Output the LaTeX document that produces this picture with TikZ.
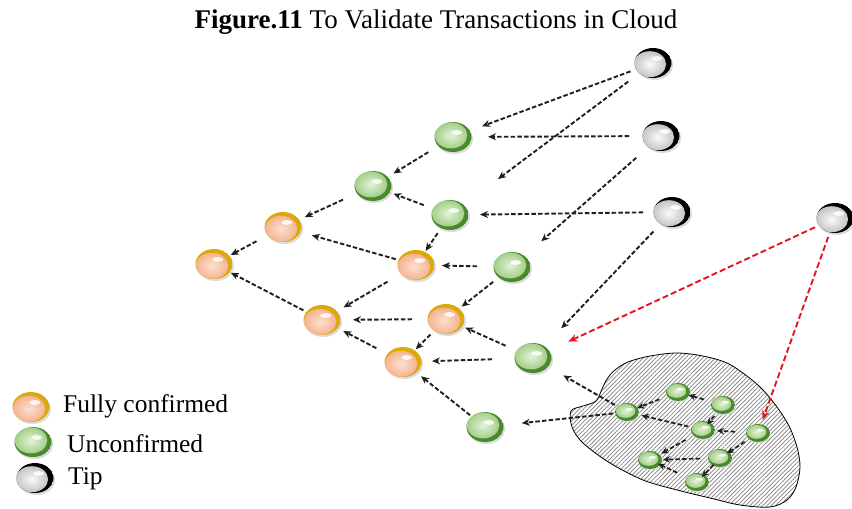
\documentclass[tikz,border=0pt]{standalone}
\usepackage{fontspec}
\setmainfont{Liberation Serif}
\usetikzlibrary{shapes.geometric, arrows.meta, patterns.meta}

\definecolor{rimgreen}{HTML}{4A8A2E}
\definecolor{lightgreen}{HTML}{E3F2D8}
\definecolor{bodygreen}{HTML}{A3CF88}
\definecolor{rimgold}{HTML}{D9AA08}
\definecolor{lightpeach}{HTML}{FDE0CF}
\definecolor{bodypeach}{HTML}{F4B390}
\definecolor{lightgrey}{HTML}{FAFAFA}
\definecolor{bodygrey}{HTML}{C4C4C4}
\definecolor{linkred}{HTML}{E3161C}

% glossy egg: rim colour underneath, shaded body shifted off-centre, white gloss
\newcommand\orbpaint[7]{%
  \fill[#3] (path picture bounding box.center) ellipse [x radius=#1, y radius=#2];
  \shade[inner color=#4, outer color=#5]
    ([shift={(#6,#7)}]path picture bounding box.center)
    ellipse [x radius=#1-2.2pt, y radius=#2-2pt];
  \fill[white, opacity=0.85]
    ([shift={(0.2*#1,0.3*#2)}]path picture bounding box.center)
    ellipse [x radius=0.3*#1, y radius=0.16*#2];
}

\tikzset{
  orb/.style={shape=ellipse, inner sep=0pt, minimum width=37pt, minimum height=30pt,
    preaction={fill=black!14, transform canvas={xshift=1.5pt, yshift=-2pt}}},
  smallorb/.style={shape=ellipse, inner sep=0pt, minimum width=24pt, minimum height=18pt,
    preaction={fill=black!14, transform canvas={xshift=1pt, yshift=-1.5pt}}},
  gball/.style={orb, path picture={\orbpaint{18.5pt}{15pt}{rimgreen}{lightgreen}{bodygreen}{-2pt}{1.6pt}}},
  oball/.style={orb, path picture={\orbpaint{18.5pt}{15pt}{rimgold}{lightpeach}{bodypeach}{-2pt}{-1.8pt}}},
  tball/.style={orb, path picture={\orbpaint{18.5pt}{15pt}{black}{lightgrey}{bodygrey}{-3.2pt}{-1.2pt}}},
  sball/.style={smallorb, path picture={\orbpaint{12pt}{9pt}{rimgreen}{lightgreen}{bodygreen}{-1.4pt}{1.1pt}}},
  darr/.style={draw=black!88, line width=1.9pt, dash pattern=on 4.5pt off 2.2pt,
    -{Stealth[length=8pt,width=7pt]}},
  sarr/.style={darr, line width=1.7pt, -{Stealth[length=7pt,width=6.5pt]}},
  rarr/.style={draw=linkred, line width=1.9pt, dash pattern=on 6pt off 3pt,
    -{Stealth[length=9pt,width=7.5pt]}},
  legendtext/.style={anchor=base west, inner sep=0pt, font=\fontsize{25.5}{30}\selectfont},
}

\begin{document}
\begin{tikzpicture}[x=1pt, y=-1pt]
\useasboundingbox (0,0) rectangle (852,509);
\fill[white] (0,0) rectangle (852,509);

% title
\node[anchor=base, inner sep=0pt, font=\fontsize{27}{31}\selectfont] (title) at (436,28)
  {\textbf{Figure.11} To Validate Transactions in Cloud};

% hatched region holding the newly arrived transactions
\draw[line width=0.8pt, pattern={Lines[angle=45, distance=3pt, line width=0.7pt]}, pattern color=black!50]
  plot[smooth cycle, tension=0.55] coordinates {
    (571,411) (583,406) (596,401) (602,389) (607,379) (615,370) (628,362)
    (650,356) (677,353) (703,356) (727,363) (747,376) (763,390) (777,407)
    (789,426) (797,447) (800,467) (796,487) (787,500) (770,507) (740,505)
    (710,498) (677,490) (643,480) (610,463) (583,443) (572,427)};

% tips
\node[tball] (T1) at (653,63) {};
\node[tball] (T2) at (661,136) {};
\node[tball] (T3) at (672,212) {};
\node[tball] (T4) at (835,218) {};

% unconfirmed
\node[gball] (G1) at (453,137) {};
\node[gball] (G2) at (373,186) {};
\node[gball] (G3) at (450,215) {};
\node[gball] (G4) at (512,267) {};
\node[gball] (G5) at (533,358) {};
\node[gball] (G6) at (485,427) {};

% fully confirmed
\node[oball] (O1) at (283,227) {};
\node[oball] (O2) at (214,264) {};
\node[oball] (O3) at (416,265) {};
\node[oball] (O4) at (322,320) {};
\node[oball] (O5) at (446,319) {};
\node[oball] (O6) at (403,362) {};

% transactions inside the region
\node[sball] (s1) at (627,412) {};
\node[sball] (s2) at (678,392) {};
\node[sball] (s3) at (723,405) {};
\node[sball] (s4) at (703,430) {};
\node[sball] (s5) at (758,433) {};
\node[sball] (s6) at (650,460) {};
\node[sball] (s7) at (720,458) {};
\node[sball] (s8) at (697,482) {};

% approvals from the tips
\draw[darr, shorten <=24pt, shorten >=31pt] (T1.center) -- (G1.center);
\draw[darr, shorten <=31pt, shorten >=60pt] (T1.center) -- (G3.center);
\draw[darr, shorten <=32pt, shorten >=35pt] (T2.center) -- (G1.center);
\draw[darr, shorten <=33pt, shorten >=39pt] (T2.center) -- (G4.center);
\draw[darr, shorten <=29pt, shorten >=30pt] (T3.center) -- (G3.center);
\draw[darr, shorten <=27pt, shorten >=41pt] (T3.center) -- (G5.center);
\draw[rarr, shorten <=22pt, shorten >=39pt] (T4.center) -- (G5.center);
\draw[rarr, shorten <=20pt, shorten >=14pt] (T4.center) -- (s5.center);

% approvals among earlier transactions
\draw[darr, shorten <=29pt, shorten >=24pt] (G1.center) -- (G2.center);
\draw[darr, shorten <=28pt, shorten >=22pt] (G3.center) -- (G2.center);
\draw[darr, shorten <=33pt, shorten >=24pt] (G2.center) -- (O1.center);
\draw[darr, shorten <=30pt, shorten >=19pt] (O1.center) -- (O2.center);
\draw[darr, shorten <=21pt, shorten >=30pt] (O3.center) -- (O1.center);
\draw[darr, shorten <=22pt, shorten >=17pt] (G3.center) -- (O3.center);
\draw[darr, shorten <=35pt, shorten >=26pt] (G4.center) -- (O3.center);
\draw[darr, shorten <=21pt, shorten >=19pt] (O4.center) -- (O2.center);
\draw[darr, shorten <=34pt, shorten >=31pt] (O5.center) -- (O4.center);
\draw[darr, shorten <=33pt, shorten >=25pt] (O3.center) -- (O4.center);
\draw[darr, shorten <=24pt, shorten >=20pt] (G4.center) -- (O5.center);
\draw[darr, shorten <=30pt, shorten >=24pt] (O6.center) -- (O4.center);
\draw[darr, shorten <=22pt, shorten >=18pt] (O5.center) -- (O6.center);
\draw[darr, shorten <=41pt, shorten >=29pt] (G5.center) -- (O6.center);
\draw[darr, shorten <=30pt, shorten >=21pt] (G5.center) -- (O5.center);
\draw[darr, shorten <=19pt, shorten >=23pt] (G6.center) -- (O6.center);
\draw[darr, shorten <=14pt, shorten >=37pt] (s1.center) -- (G6.center);
\draw[darr, shorten <=14pt, shorten >=35pt] (s1.center) -- (G5.center);

% approvals inside the region
\draw[sarr, shorten <=20pt, shorten >=11pt] (s2.center) -- (s1.center);
\draw[sarr, shorten <=15pt, shorten >=15pt] (s4.center) -- (s1.center);
\draw[sarr, shorten <=20pt, shorten >=11pt] (s3.center) -- (s2.center);
\draw[sarr, shorten <=14pt, shorten >=7pt] (s3.center) -- (s4.center);
\draw[sarr, shorten <=23pt, shorten >=14pt] (s5.center) -- (s4.center);
\draw[sarr, shorten <=16pt, shorten >=8.5pt] (s5.center) -- (s7.center);
\draw[sarr, shorten <=20pt, shorten >=13pt] (s4.center) -- (s6.center);
\draw[sarr, shorten <=20pt, shorten >=13pt] (s7.center) -- (s6.center);
\draw[sarr, shorten <=22pt, shorten >=9pt] (s8.center) -- (s6.center);
\draw[sarr, shorten <=9.5pt, shorten >=7pt] (s7.center) -- (s8.center);

% legend
\node[oball] (Lo) at (31,407) {};
\node[gball] (Lg) at (33,442) {};
\node[tball] (Lt) at (35,478) {};
\node[legendtext] (Lotext) at (63,412) {Fully confirmed};
\node[legendtext] (Lgtext) at (67,452) {Unconfirmed};
\node[legendtext] (Lttext) at (68,484) {Tip};
\end{tikzpicture}
\end{document}
